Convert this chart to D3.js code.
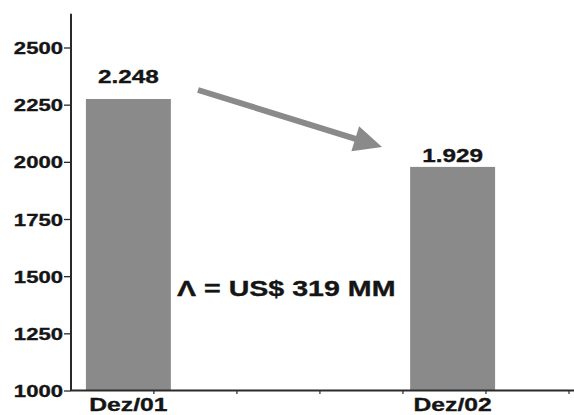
<!DOCTYPE html>
<html>
<head>
<meta charset="utf-8">
<script src="https://cdn.jsdelivr.net/npm/d3@7"></script>
<style>
  html, body { margin: 0; padding: 0; background: #fff; }
  svg { display: block; }
  text { font-family: "Liberation Sans", Arial, sans-serif; font-weight: bold; fill: #151515; stroke: #151515; stroke-width: 0.35; }
</style>
</head>
<body>
<svg id="chart" width="574" height="415"></svg>
<script>
// ---- data ----
const categories = ["Dez/01", "Dez/02"];
const barValues = [2277, 1980];          // bar heights as drawn against the axis
const barLabels = ["2.248", "1.929"];     // printed value labels
const yTicks = [1000, 1250, 1500, 1750, 2000, 2250, 2500];
const annotation = "Λ = US$ 319 MM";

// ---- layout ----
const W = 574, H = 415;
const axisX = 71, baseY = 391, topTickY = 48;
const stretch = 1.3;
const labelGap = [16, 5];

const svg = d3.select("#chart");

const y = d3.scaleLinear().domain([1000, 2500]).range([baseY, topTickY]);
const x = d3.scaleBand().domain(categories).range([axisX, 510])
  .paddingInner(0.738).paddingOuter(0.046);

// bars
svg.append("g").selectAll("rect").data(categories).join("rect")
  .attr("x", d => x(d))
  .attr("width", x.bandwidth())
  .attr("y", (d, i) => y(barValues[i]))
  .attr("height", (d, i) => y(1000) - y(barValues[i]))
  .attr("fill", "#8a8a8a");

// stretched text helper
function sText(g, tx, ty, str, size, anchor, sx) {
  const gg = g.append("g").attr("transform", `translate(${tx},${ty}) scale(${sx || stretch},1)`);
  gg.append("text").attr("x", 0).attr("y", 0)
    .attr("text-anchor", anchor).attr("font-size", size).text(str);
  return gg;
}

// y axis
const yAxisG = svg.append("g");
yAxisG.append("line")
  .attr("x1", axisX).attr("x2", axisX)
  .attr("y1", y(2650)).attr("y2", y(1000))
  .attr("stroke", "#2a2a2a").attr("stroke-width", 2);
yTicks.forEach(t => {
  yAxisG.append("line")
    .attr("x1", axisX - 7).attr("x2", axisX)
    .attr("y1", y(t)).attr("y2", y(t))
    .attr("stroke", "#2a2a2a").attr("stroke-width", 1.3);
  sText(yAxisG, axisX - 8, y(t) + 6, String(t), 17, "end");
});

// x axis
const xAxisG = svg.append("g");
xAxisG.append("line")
  .attr("x1", axisX).attr("x2", W)
  .attr("y1", baseY - 0.5).attr("y2", baseY - 0.5)
  .attr("stroke", "#2a2a2a").attr("stroke-width", 2);
const minor = d3.scaleLinear().domain([0, 5]).range([x(categories[0]) + x.bandwidth() * 0.8, W - 5]);
d3.range(0, 6).forEach(i => {
  xAxisG.append("line")
    .attr("x1", minor(i)).attr("x2", minor(i))
    .attr("y1", baseY).attr("y2", baseY + 3)
    .attr("stroke", "#2a2a2a").attr("stroke-width", 1.2);
});
categories.forEach(c => {
  sText(xAxisG, x(c) + x.bandwidth() / 2, 411, c, 19, "middle");
});

// value labels
categories.forEach((c, i) => {
  sText(svg, x(c) + x.bandwidth() / 2, y(barValues[i]) - labelGap[i], barLabels[i], 19, "middle", 1.28);
});

// annotation text
sText(svg, 177, 296, annotation, 22, "start", 1.3);

// arrow
const p0 = [198, 90], tip = [382, 147];
const dx = tip[0] - p0[0], dy = tip[1] - p0[1];
const len = Math.hypot(dx, dy);
const ux = dx / len, uy = dy / len, px = -uy, py = ux;
const headLen = 28, headHalf = 13;
const base = [tip[0] - ux * headLen, tip[1] - uy * headLen];
svg.append("line")
  .attr("x1", p0[0]).attr("y1", p0[1])
  .attr("x2", base[0] + ux * 2).attr("y2", base[1] + uy * 2)
  .attr("stroke", "#8a8a8a").attr("stroke-width", 6);
svg.append("path")
  .attr("d", d3.line()([
    tip,
    [base[0] + px * headHalf, base[1] + py * headHalf],
    [base[0] - px * headHalf, base[1] - py * headHalf]
  ]) + "Z")
  .attr("fill", "#8a8a8a");
</script>
</body>
</html>
